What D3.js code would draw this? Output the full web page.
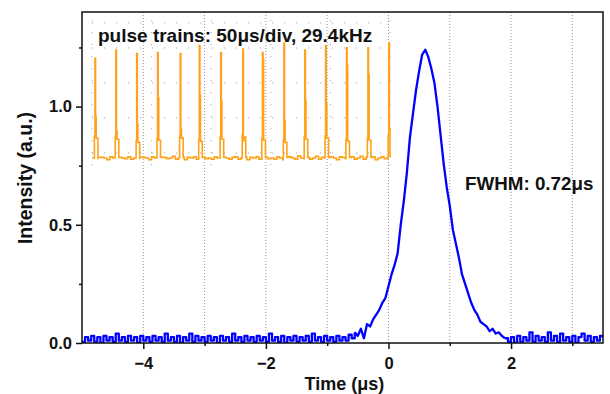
<!DOCTYPE html>
<html>
<head>
<meta charset="utf-8">
<script src="https://cdn.jsdelivr.net/npm/d3@7"></script>
<style>
	body { margin: 0; background: #fff; }
	text { font-family: "Liberation Sans", Arial, sans-serif; font-weight: bold; fill: #111; }
</style>
</head>
<body>
<div id="chart"></div>
<script>
// main trace: photodetector signal, sampled every 0.05 us from -5 us
var traceStart = -5, traceStep = 0.05;
var intensity = [
	0.005,0.025,0.01,0.03,0.005,0.025,0.0,0.03,0.01,0.025,
	0.005,0.04,0.01,0.025,0.005,0.03,0.01,0.025,0.0,0.03,
	0.01,0.025,0.005,0.03,0.01,0.025,0.005,0.04,0.01,0.025,
	0.005,0.03,0.0,0.025,0.01,0.04,0.005,0.03,0.01,0.025,
	0.005,0.03,0.01,0.025,0.0,0.03,0.01,0.025,0.005,0.04,
	0.01,0.025,0.005,0.03,0.01,0.025,0.005,0.03,0.01,0.025,
	0.005,0.04,0.01,0.025,0.005,0.03,0.0,0.025,0.01,0.03,
	0.005,0.025,0.01,0.03,0.005,0.04,0.01,0.025,0.005,0.03,
	0.01,0.025,0.005,0.03,0.01,0.025,0.01,0.035,0.02,0.045,
	0.03,0.06,0.02,0.08,0.07,0.10,0.12,0.14,0.17,0.19,
	0.24,0.29,0.33,0.38,0.50,0.60,0.72,0.87,0.97,1.07,
	1.15,1.22,1.24,1.21,1.16,1.10,1.00,0.88,0.76,0.66,
	0.58,0.48,0.42,0.36,0.29,0.25,0.21,0.17,0.14,0.12,
	0.09,0.08,0.07,0.05,0.06,0.04,0.045,0.03,0.02,0.005,
	0.025,0.0,0.03,0.005,0.025,0.01,0.045,0.005,0.03,0.01,
	0.025,0.005,0.045,0.01,0.03,0.005,0.04,0.01,0.025,0.005,
	0.03,0.0,0.025,0.04,0.01,0.03,0.005,0.025,0.01,0.03,
	0.02
];
var pulseWindow = [-0.55, 1.9];
var xTicks = [-4, -2, 0, 2];
var xMinorTicks = [-3, -1, 1, 3];
var xGrid = [-4, -3, -2, -1, 0, 1, 2, 3];
var yTicks = [0, 0.5, 1.0];
var yMinorTicks = [0.25, 0.75, 1.25];

// inset: scope trace of the pulse train (time in us, 5 us noise samples)
var insetNoiseStep = 5;
var insetNoise = [
	0.00,0.01,-0.01,0.005,0.00,-0.015,0.01,0.00,-0.01,0.015,
	0.00,-0.005,0.01,-0.01,0.00,0.02,-0.01,0.005,0.00,-0.015,
	0.01,0.00,-0.01,0.01,0.005,-0.005,0.00,0.015,-0.01,0.00,
	0.01,-0.015,0.005,0.00,0.01,-0.01,0.00,0.02,-0.005,0.00,
	-0.01,0.01,0.00,-0.005,0.015,0.00,-0.01,0.005,0.01,-0.01,
	0.00,0.01,-0.015,0.005,0.00,0.01,-0.01,0.00,0.015,-0.005,
	0.00,-0.01,0.01,0.00,-0.015,0.005,0.01,0.00,-0.01,0.02,
	0.00,-0.005,0.01,-0.01,0.00,0.015,-0.01,0.005,0.00,-0.01,
	0.01,0.00,-0.015,0.01,0.005,-0.005,0.00,0.01,-0.01,0.00,
	0.015,-0.01,0.005,0.00,0.01,-0.015,0.00,0.01,-0.005,0.00,
	0.01
];
var pulseTimes = [5, 40, 75, 110, 148, 180, 216, 253, 286, 322, 357, 392, 427, 463, 498];
var pulsePeaks = [0.86, 0.93, 0.90, 0.91, 0.90, 0.97, 0.91, 0.94, 0.91, 0.99, 0.93, 0.97, 0.95, 0.95, 0.99];
var pulseMids = [0.36, 0.23, 0.29, 0.52, 0.25, 0.54, 0.49, 0.15, 0.85, 0.32, 0.50, 0.47, 0.80, 0.72, 0.25];
var pulseShoulders = [0.19, 0.18, 0.15, 0.17, 0.19, 0.16, 0.18, 0.2, 0.17, 0.15, 0.18, 0.19, 0.16, 0.17, 0.2];

var W = 610, H = 394;
var margin = { top: 12, right: 7, bottom: 51, left: 82 },
width = W - margin.left - margin.right,
height = H - margin.top - margin.bottom;

var svg = d3.select("#chart").append("svg")
	.attr("width", W)
	.attr("height", H);

var x = d3.scaleLinear().domain([-5, 3.5]).range([0, width]),
y = d3.scaleLinear().domain([0, 1.4]).range([height, 0]);

var g = svg.append("g")
	.attr("transform", "translate(" + margin.left + "," + margin.top + ")");

svg.append("defs").append("clipPath")
	.attr("id", "clip")
	.append("rect")
	.attr("width", width)
	.attr("height", height);

// vertical dotted grid
g.selectAll(".grid")
	.data(xGrid)
	.enter().append("line")
	.attr("x1", function (d) { return x(d); })
	.attr("x2", function (d) { return x(d); })
	.attr("y1", 0)
	.attr("y2", height)
	.attr("stroke", "#9a9a9a")
	.attr("stroke-width", 1)
	.attr("stroke-dasharray", "1,2");

// inset
var ix = d3.scaleLinear().domain([0, 500]).range([10, 308]),
iy = d3.scaleLinear().domain([0, 1]).range([146, 30]);

var inset = g.append("g").attr("class", "inset");

var gridRows = [11, 36, 71, 106, 141];
var gridCols = [10, 69.6, 129.2, 188.8, 248.4, 308];
inset.selectAll(".irow")
	.data(gridRows)
	.enter().append("line")
	.attr("x1", 10).attr("x2", 308)
	.attr("y1", function (d) { return d; })
	.attr("y2", function (d) { return d; })
	.attr("stroke", "#aaa")
	.attr("stroke-dasharray", "1.2,10.8");
inset.selectAll(".icol")
	.data(gridCols)
	.enter().append("line")
	.attr("x1", function (d) { return d; })
	.attr("x2", function (d) { return d; })
	.attr("y1", 8).attr("y2", 160)
	.attr("stroke", "#aaa")
	.attr("stroke-dasharray", "1.2,10.8");

// build inset trace from noise samples and pulses
var insetPts = [];
insetNoise.forEach(function (v, i) {
	var t = i * insetNoiseStep;
	var inPulse = pulseTimes.some(function (p) { return t >= p - 1 && t < p + 5; });
	if (!inPulse) insetPts.push([t, v]);
});
pulseTimes.forEach(function (p, i) {
	insetPts.push([p - 1, pulseShoulders[i]]);
	insetPts.push([p, pulsePeaks[i]]);
	insetPts.push([p + 1, pulseMids[i]]);
	insetPts.push([p + 2, pulseShoulders[i] * 0.9]);
	insetPts.push([p + 5, 0.005]);
});
insetPts.sort(function (a, b) { return a[0] - b[0]; });

var insetLine = d3.line()
	.curve(d3.curveStepAfter)
	.x(function (d) { return ix(Math.min(d[0], 500)); })
	.y(function (d) { return iy(d[1]); });

inset.append("path")
	.datum(insetPts)
	.attr("fill", "none")
	.attr("stroke", "#ffa21a")
	.attr("stroke-width", 1.6)
	.attr("d", insetLine);

inset.append("text")
	.attr("x", 16)
	.attr("y", 30)
	.attr("font-size", "19px")
	.text("pulse trains: 50\u03bcs/div, 29.4kHz");

// main trace: noisy baseline drawn as steps, pulse as a line
var pts = intensity.map(function (v, i) { return [traceStart + i * traceStep, v]; });
var eps = 1e-6;
var before = pts.filter(function (d) { return d[0] <= pulseWindow[0] + eps; }),
pulse = pts.filter(function (d) { return d[0] >= pulseWindow[0] - eps && d[0] <= pulseWindow[1] + eps; }),
after = pts.filter(function (d) { return d[0] >= pulseWindow[1] - eps; });

var stepLine = d3.line()
	.curve(d3.curveStepAfter)
	.x(function (d) { return x(d[0]); })
	.y(function (d) { return y(d[1]); });
var smoothLine = d3.line()
	.x(function (d) { return x(d[0]); })
	.y(function (d) { return y(d[1]); });

[[before, stepLine], [pulse, smoothLine], [after, stepLine]].forEach(function (s) {
	g.append("path")
	.datum(s[0])
	.attr("clip-path", "url(#clip)")
	.attr("fill", "none")
	.attr("stroke", "#0000ff")
	.attr("stroke-width", 2.3)
	.attr("stroke-linejoin", "round")
	.attr("d", s[1]);
});

g.append("text")
	.attr("x", 383)
	.attr("y", 178)
	.attr("font-size", "18.8px")
	.text("FWHM: 0.72\u03bcs");

// axes
var xAxis = d3.axisBottom(x).tickValues(xTicks).tickSize(6).tickFormat(d3.format("d")),
xAxisMinor = d3.axisBottom(x).tickValues(xMinorTicks).tickSize(3).tickFormat(""),
yAxis = d3.axisLeft(y).tickValues(yTicks).tickSize(6).tickFormat(d3.format(".1f")),
yAxisMinor = d3.axisLeft(y).tickValues(yMinorTicks).tickSize(3).tickFormat("");

function styleAxis(sel) {
	sel.select(".domain").remove();
	sel.selectAll(".tick line").attr("stroke", "#111").attr("stroke-width", 1.5);
	sel.selectAll(".tick text").attr("font-size", "16.5px").attr("fill", "#111")
		.style("font-family", "'Liberation Sans', Arial, sans-serif").style("font-weight", "bold");
}

g.append("g")
	.attr("transform", "translate(0," + height + ")")
	.call(xAxis)
	.call(styleAxis)
	.selectAll(".tick text").attr("dy", "1.05em");
g.append("g")
	.attr("transform", "translate(0," + height + ")")
	.call(xAxisMinor)
	.call(styleAxis);
g.append("g")
	.call(yAxis)
	.call(styleAxis)
	.selectAll(".tick text").attr("x", -10);
g.append("g")
	.call(yAxisMinor)
	.call(styleAxis);

// frame
g.append("rect")
	.attr("width", width)
	.attr("height", height)
	.attr("fill", "none")
	.attr("stroke", "#111")
	.attr("stroke-width", 1.5);

svg.append("text")
	.attr("transform", "translate(32,178) rotate(-90)")
	.attr("text-anchor", "middle")
	.attr("font-size", "19.5px")
	.text("Intensity (a.u.)");

svg.append("text")
	.attr("x", margin.left + x(-0.72))
	.attr("y", 390)
	.attr("text-anchor", "middle")
	.attr("font-size", "18px")
	.text("Time (\u03bcs)");
</script>
</body>
</html>
